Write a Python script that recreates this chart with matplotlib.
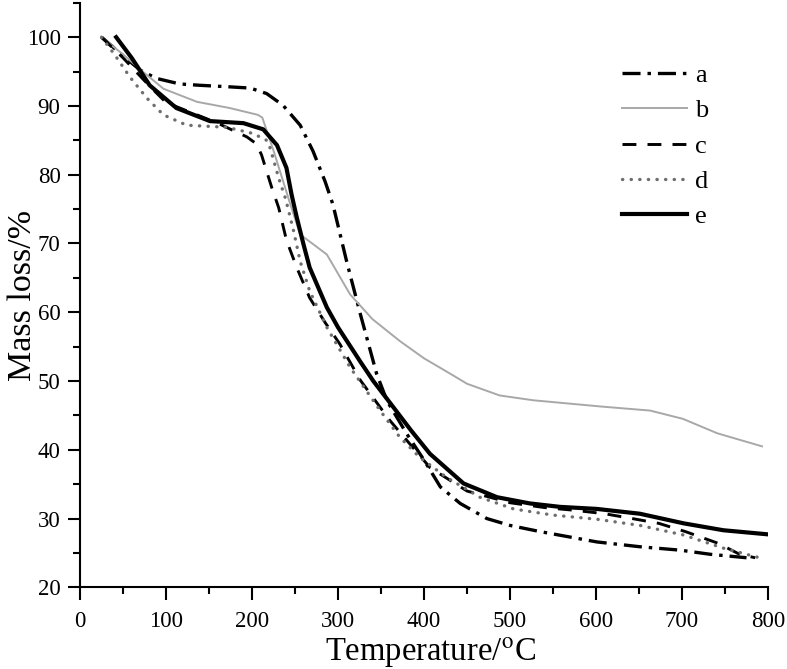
import matplotlib
matplotlib.use("Agg")
import matplotlib.pyplot as plt
from matplotlib.ticker import MultipleLocator

# TGA curves (temperature in degC, mass in %)
a_temp = [25, 50, 70, 89, 116, 140, 171, 198, 217, 236, 256, 271, 285, 294,
          310, 326, 345, 357, 380, 400, 419, 442, 473, 500, 535, 601, 651,
          698, 733, 775]
a_mass = [100, 97.3, 95.2, 94.0, 93.2, 93.0, 92.8, 92.6, 91.8, 90.1, 87.2,
          83.4, 79.0, 75.7, 67.4, 59.7, 51.0, 47.1, 42.3, 38.5, 34.6, 32.2,
          30.0, 29.0, 28.1, 26.6, 25.9, 25.4, 24.8, 24.3]

b_temp = [25, 50, 70, 97, 136, 174, 207, 212, 216, 225, 235, 245, 256, 270,
          287, 314, 340, 372, 400, 430, 450, 488, 527, 605, 663, 701, 741,
          793]
b_mass = [100, 97.5, 95.3, 92.5, 90.6, 89.7, 88.7, 88.3, 86.8, 83.5, 79.5,
          75.5, 71.3, 70.0, 68.4, 62.6, 59.0, 55.8, 53.3, 51.1, 49.6, 47.9,
          47.2, 46.3, 45.7, 44.5, 42.4, 40.5]

c_temp = [25, 50, 80, 100, 132, 160, 194, 205, 211, 223, 231, 240, 252, 267,
          285, 302, 326, 360, 407, 450, 500, 540, 575, 610, 642, 673, 704,
          742, 767, 785]
c_mass = [100, 97, 93, 90.5, 88.9, 87.5, 85.5, 84.5, 82.9, 78.1, 75.2, 70.5,
          66.5, 62.1, 58.5, 55.4, 50.1, 44.3, 37.4, 34.0, 32.3, 31.6, 31.2,
          30.7, 30.0, 29.3, 28.1, 26.4, 24.8, 24.3]

d_temp = [25, 40, 58, 78, 97, 124, 171, 201, 217, 221, 231, 239, 248, 256,
          267, 287, 314, 349, 372, 395, 426, 465, 504, 550, 601, 651, 702,
          748, 793]
d_mass = [100, 97.5, 94.2, 91.1, 88.7, 87.2, 86.9, 86.0, 85.0, 83.9, 79.5,
          76.5, 72.0, 67.4, 63.1, 57.8, 52.0, 45.7, 41.8, 38.9, 36.0, 33.1,
          31.4, 30.5, 29.9, 29.0, 27.6, 25.7, 24.2]

e_temp = [42, 60, 81, 112, 151, 190, 213, 229, 240, 246, 252, 260, 267, 287,
          300, 326, 341, 360, 385, 407, 446, 485, 523, 558, 601, 651, 702,
          748, 800]
e_mass = [100, 97, 93.0, 89.7, 87.8, 87.5, 86.6, 84.3, 81.0, 77.1, 73.8,
          69.8, 66.5, 60.7, 57.8, 52.8, 50.0, 46.9, 42.8, 39.4, 35.1, 33.1,
          32.2, 31.7, 31.4, 30.7, 29.3, 28.3, 27.7]

labels = ["a", "b", "c", "d", "e"]

plt.rcParams["font.family"] = ["Liberation Serif", "DejaVu Serif"]
plt.rcParams["mathtext.fontset"] = "stix"
plt.rcParams["lines.scale_dashes"] = False

fig = plt.figure(figsize=(7.87, 6.69), dpi=100)
ax = fig.add_axes([0.1017, 0.1221, 0.8742, 0.8737])

ax.plot(a_temp, a_mass, color="black", lw=2.4,
        linestyle=(0, (13, 5, 2.5, 5)), label=labels[0])
ax.plot(b_temp, b_mass, color="#a8a8a8", lw=1.4, label=labels[1])
ax.plot(c_temp, c_mass, color="black", lw=2.1,
        linestyle=(0, (10, 8)), label=labels[2])
ax.plot(d_temp, d_mass, color="#6e6e6e", lw=2.4, dash_capstyle="round",
        linestyle=(0, (0.2, 6)), label=labels[3])
ax.plot(e_temp, e_mass, color="black", lw=3.0, label=labels[4])

ax.set_xlim(0, 800)
ax.set_ylim(20, 105)
ax.xaxis.set_major_locator(MultipleLocator(100))
ax.xaxis.set_minor_locator(MultipleLocator(50))
ax.yaxis.set_minor_locator(MultipleLocator(5))
ax.set_yticks(range(20, 101, 10))

for side in ["top", "right"]:
    ax.spines[side].set_visible(False)
for side in ["left", "bottom"]:
    ax.spines[side].set_linewidth(1.5)

ax.tick_params(which="major", direction="out", length=9, width=1.5,
               labelsize=16.5)
ax.tick_params(axis="x", which="major", pad=8)
ax.tick_params(axis="y", which="major", pad=5)
ax.tick_params(which="minor", direction="out", length=5, width=1.5)

ax.set_xlabel("Temperature/$^{\\mathrm{o}}$C", fontsize=23.5)
ax.set_ylabel("Mass loss/%", fontsize=24.5)
ax.xaxis.set_label_coords(0.51, -0.082, transform=ax.transAxes)
ax.yaxis.set_label_coords(-0.061, 0.5, transform=ax.transAxes)
ax.xaxis.label.set_va("top")

ax.legend(loc="upper left", bbox_to_anchor=(0.773, 0.914), frameon=False,
          fontsize=19, handlelength=2.45, handletextpad=0.3,
          labelspacing=0.45, borderaxespad=0)

fig.savefig("out.png", dpi=100)
